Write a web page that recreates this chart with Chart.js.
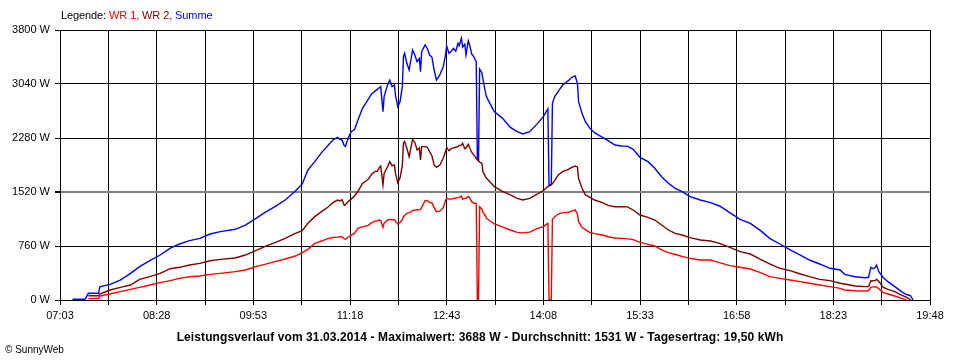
<!DOCTYPE html>
<html lang="de">
<head>
<meta charset="utf-8">
<title>Leistungsverlauf 31.03.2014</title>
<script src="https://cdn.jsdelivr.net/npm/chart.js@4.4.1/dist/chart.umd.min.js"></script>
<style>
  body { margin: 0; background: #fff; font-family: "Liberation Sans", Arial, sans-serif; }
  #rahmen { position: relative; width: 960px; height: 360px; }
  #grafico { position: absolute; left: 0; top: 0; }
  .legende { position: absolute; left: 61px; top: 9px; font-size: 11px; letter-spacing: -0.1px; color: #000; white-space: nowrap; }
  .titel { position: absolute; left: 0; width: 960px; top: 330px; text-align: center; font-size: 12px; letter-spacing: 0.1px; font-weight: bold; white-space: nowrap; }
  .copy { position: absolute; left: 5px; top: 344px; font-size: 10px; white-space: nowrap; }
</style>
</head>
<body>
<div id="rahmen">
  <canvas id="grafico" width="960" height="360"></canvas>
  <div class="legende">Legende: <span style="color:#ff0000">WR 1,</span> <span style="color:#800000">WR 2,</span> <span style="color:#0000ff">Summe</span></div>
  <div class="titel">Leistungsverlauf vom 31.03.2014 - Maximalwert: 3688 W - Durchschnitt: 1531 W - Tagesertrag: 19,50 kWh</div>
  <div class="copy">© SunnyWeb</div>
</div>
<script>
// Messzeitpunkte (Uhrzeit)
const zeiten = [
  '07:14','07:25','07:28','07:37','07:38','07:47','07:56','08:05','08:13','08:22',
  '08:31','08:40','08:48','08:57','09:06','09:15','09:24','09:37','09:46','09:55',
  '10:03','10:12','10:21','10:30','10:36','10:41','10:47','10:53','10:59','11:03',
  '11:07','11:09','11:11','11:13','11:14','11:16','11:19','11:22','11:25','11:29',
  '11:34','11:37','11:40','11:42','11:44','11:45','11:47','11:48','11:51','11:53',
  '11:55','11:57','11:58','12:00','12:02','12:04','12:05','12:06','12:08','12:10',
  '12:12','12:13','12:15','12:17','12:19','12:20','12:21','12:24','12:26','12:28',
  '12:30','12:32','12:34','12:37','12:40','12:42','12:43','12:45','12:47','12:49',
  '12:51','12:53','12:54','12:56','12:57','12:59','13:00','13:02','13:03','13:05',
  '13:07','13:09','13:10','13:11','13:12','13:14','13:15','13:17','13:18','13:21',
  '13:25','13:32','13:39','13:45','13:50','13:56','14:03','14:08','14:12','14:13',
  '14:15','14:16','14:18','14:21','14:25','14:30','14:33','14:36','14:38','14:39',
  '14:42','14:45','14:49','14:53','15:00','15:05','15:11','15:17','15:22','15:27',
  '15:33','15:40','15:46','15:52','15:58','16:04','16:10','16:17','16:26','16:35',
  '16:43','16:52','17:01','17:10','17:19','17:27','17:36','17:45','17:54','18:02',
  '18:11','18:20','18:29','18:33','18:42','18:51','18:54','18:56','18:58','19:00',
  '19:01','19:03','19:07','19:11','19:17','19:23','19:27','19:29','19:31','19:33'
];

// Leistung in W
const wr1 = [
  null,null,20,25,56,84,117,150,178,211,
  244,272,305,328,338,361,375,399,422,469,
  502,540,577,619,666,713,797,830,868,880,
  885,890,891,860,854,880,910,940,1009,1030,
  1050,1088,1110,1115,1126,1120,1023,1080,1126,1135,
  1130,1130,1110,1070,1090,1130,1173,1190,1220,1229,
  1245,1260,1265,1270,1272,1276,1300,1398,1400,1370,
  1370,1300,1243,1250,1300,1400,1431,1420,1420,1431,
  1435,1440,1445,1464,1420,1430,1431,1460,1440,1384,
  1360,1360,0,0,1313,1280,1229,1190,1149,1116,
  1070,1030,985,952,945,955,1009,1032,1079,0,
  0,1135,1173,1210,1229,1235,1250,1267,1210,1102,
  1023,990,950,935,915,890,872,868,860,850,
  812,783,760,705,666,640,615,586,563,563,
  525,483,460,436,385,328,305,281,258,235,
  211,188,164,141,131,127,130,178,185,188,
  180,160,103,84,56,23,0,null,null,null
];

const wr2 = [
  null,null,60,60,84,141,178,211,291,328,
  375,440,460,493,516,553,572,591,633,694,
  750,807,868,938,976,1079,1173,1243,1313,1370,
  1407,1395,1410,1330,1340,1380,1420,1465,1530,1640,
  1698,1770,1810,1810,1870,1886,1618,1780,1876,1947,
  1890,1900,1783,1651,1720,1890,2205,2229,2135,2017,
  2180,2261,2220,2111,2140,1970,2158,2158,2150,2088,
  2030,1900,1867,1900,1994,2090,2149,2100,2130,2140,
  2150,2158,2175,2180,2205,2130,2140,2190,2150,2080,
  2040,1994,1975,1960,1940,1923,1800,1740,1712,1665,
  1595,1530,1478,1431,1407,1431,1492,1539,1600,1604,
  1620,1640,1680,1759,1806,1839,1867,1886,1870,1712,
  1572,1478,1445,1407,1370,1332,1313,1313,1310,1267,
  1196,1164,1126,1055,985,938,915,877,844,830,
  797,741,680,647,572,507,446,413,366,328,
  291,272,235,225,197,188,190,272,270,272,
  291,260,178,150,117,70,40,23,0,null
];

const summe = [
  10,10,94,94,187,220,281,375,469,553,
  633,730,788,835,868,929,962,995,1055,1145,
  1229,1313,1407,1534,1633,1830,1947,2074,2181,2252,
  2290,2265,2250,2170,2160,2261,2369,2400,2533,2698,
  2824,2900,2940,2965,2990,3003,2650,2862,3026,3096,
  3003,3026,2885,2721,2790,3003,3425,3472,3331,3237,
  3420,3519,3448,3354,3400,3214,3495,3589,3540,3448,
  3420,3237,3096,3167,3284,3448,3575,3472,3500,3542,
  3500,3613,3580,3683,3560,3600,3448,3650,3600,3462,
  3420,3354,1975,1960,3250,3200,3096,2932,2862,2768,
  2650,2560,2430,2369,2336,2369,2486,2580,2690,1618,
  1625,2768,2862,2932,3026,3087,3134,3153,3050,2791,
  2627,2510,2416,2355,2289,2242,2181,2167,2165,2120,
  2008,1947,1853,1735,1642,1572,1525,1454,1407,1370,
  1323,1229,1135,1079,976,868,788,704,633,563,
  507,446,422,361,328,314,320,460,440,460,
  493,399,314,258,188,117,80,70,60,0
];

// Achsen
const zeitStart = '07:03';
const zeitEnde = '19:48';
const zeitSchritt = 42.5;   // Gitterlinie alle 42,5 min, Beschriftung jede zweite
const leistungMax = 3800;
const leistungSchritt = 760;

const serien = [
  { nome: 'WR 1', valores: wr1, cor: '#ff0000' },
  { nome: 'WR 2', valores: wr2, cor: '#800000' },
  { nome: 'Summe', valores: summe, cor: '#0000ff' }
];

function minuten(hhmm) {
  const [h, m] = hhmm.split(':').map(Number);
  return h * 60 + m;
}

function uhrzeit(min) {
  const h = Math.floor(min / 60);
  const m = Math.round(min - h * 60);
  return String(h).padStart(2, '0') + ':' + String(m).padStart(2, '0');
}

function grafico_leistung(config) {
  const { id, zeiten, serien } = config;
  const canvas = document.getElementById(id);
  const fonte = { family: '"Liberation Sans", Arial, sans-serif', size: 11 };

  return new Chart(canvas, {
    type: 'line',
    data: {
      datasets: serien.map(s => ({
        label: s.nome,
        data: zeiten.map((z, i) => ({ x: minuten(z), y: s.valores[i] })),
        borderColor: s.cor,
        backgroundColor: s.cor,
        borderWidth: 1.4,
        pointRadius: 0,
        tension: 0,
        fill: false,
        spanGaps: false
      }))
    },
    options: {
      responsive: false,
      animation: false,
      layout: { padding: { left: 0, right: 30, top: 30, bottom: 0 } },
      plugins: {
        legend: { display: false },
        title: { display: false },
        tooltip: { enabled: false }
      },
      scales: {
        x: {
          type: 'linear',
          min: minuten(zeitStart),
          max: minuten(zeitEnde),
          afterFit: scale => { scale.height = 60; },
          ticks: {
            stepSize: zeitSchritt,
            autoSkip: false,
            maxRotation: 0,
            padding: 4,
            color: '#000',
            font: fonte,
            callback: (value, index) => index % 2 === 0 ? uhrzeit(value) : ''
          },
          grid: { color: '#000', lineWidth: 1, tickLength: 5, tickColor: '#000' },
          border: { display: true, color: '#000', width: 1 }
        },
        y: {
          min: 0,
          max: leistungMax,
          afterFit: scale => { scale.width = 60; },
          ticks: {
            stepSize: leistungSchritt,
            padding: 5,
            color: '#000',
            font: fonte,
            callback: value => value + ' W'
          },
          grid: {
            color: ctx => ctx.tick && ctx.tick.value === 1520 ? '#808080' : '#000',
            lineWidth: ctx => ctx.tick && ctx.tick.value === 1520 ? 2 : 1,
            tickLength: 5,
            tickColor: '#000'
          },
          border: { display: true, color: '#000', width: 1 }
        }
      }
    }
  });
}

const grafico = grafico_leistung({ id: 'grafico', zeiten, serien });
</script>
</body>
</html>
